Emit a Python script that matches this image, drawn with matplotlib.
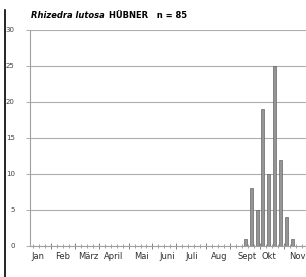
import numpy as np
import matplotlib
matplotlib.use("Agg")
import matplotlib.pyplot as plt
from matplotlib.lines import Line2D

# weekly counts (week number of the year)
weeks = [36, 37, 38, 39, 40, 41, 42, 43, 44]
counts = [1, 8, 5, 19, 10, 25, 12, 4, 1]

months = ["Jan", "Feb", "März", "April", "Mai", "Juni", "Juli", "Aug", "Sept", "Okt", "Nov"]
month_pos = [1.3, 5.5, 9.7, 14.0, 18.7, 22.9, 27.1, 31.6, 36.3, 40.0, 44.7]
month_bounds = [3.5, 7.5, 11.5, 16.5, 20.5, 24.5, 29.5, 33.5, 38.5, 42.5]

fig = plt.figure(figsize=(3.06, 2.77), dpi=100)
ax = fig.add_axes([30 / 306, 31 / 277, 276 / 306, 216 / 277])

ax.bar(weeks, counts, width=0.5, color="#959595", edgecolor="#666666", linewidth=0.5, zorder=3)

ax.set_xlim(0, 46.2)
ax.set_ylim(0, 30)
ax.set_yticks(range(0, 31, 5))
ax.yaxis.grid(True, color="#adadad", linewidth=0.8)
ax.set_axisbelow(True)

for s in ["top", "right"]:
    ax.spines[s].set_visible(False)
ax.spines["left"].set_color("#a0a0a0")
ax.spines["bottom"].set_color("#a0a0a0")
ax.spines["left"].set_linewidth(0.8)
ax.spines["bottom"].set_linewidth(0.8)

# weekly minor ticks, longer ticks at month borders
ax.set_xticks(month_bounds)
ax.set_xticklabels([])
ax.set_xticks(np.arange(0.5, 46, 1.0), minor=True)
ax.tick_params(axis="x", which="major", length=5, color="#808080", width=0.7, direction="inout")
ax.tick_params(axis="x", which="minor", length=3, color="#909090", width=0.6, direction="inout")
ax.tick_params(axis="y", length=3, color="#a0a0a0", width=0.6, labelsize=5, labelcolor="#404040", pad=8)

for m, p in zip(months, month_pos):
    ax.text(p, -1.5, m, ha="center", va="center", fontsize=6, color="#303030")

# title: italic species name, then author and n
ty = 1 - 15 / 277
t1 = fig.text(31 / 306, ty, "Rhizedra lutosa", fontsize=6, fontweight="bold",
              fontstyle="italic", ha="left", va="center")
fig.canvas.draw()
bb = t1.get_window_extent()
fig.text((bb.x1 + 4) / 306, ty, "HÜBNER   n = 85", fontsize=6, fontweight="bold",
         ha="left", va="center")

# page border on the left
fig.add_artist(Line2D([5 / 306, 5 / 306], [0, 1 - 10 / 277], transform=fig.transFigure,
                      color="black", linewidth=1.2))

fig.savefig("out.png", dpi=100)
